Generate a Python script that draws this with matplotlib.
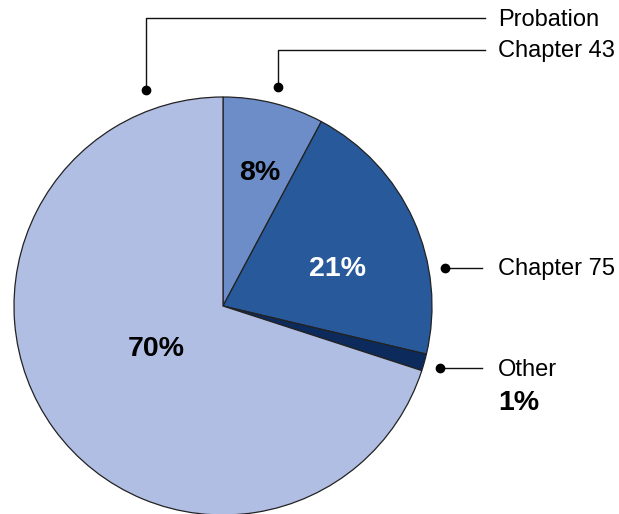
import matplotlib
matplotlib.use("Agg")
import matplotlib.pyplot as plt

categories = ["Chapter 43", "Chapter 75", "Other", "Probation"]
values = [7.8, 20.9, 1.3, 70.0]
pct_labels = ["8%", "21%", "1%", "70%"]
colors = ["#6c8dc8", "#28599b", "#0c2b5c", "#b0bee3"]

W, H = 619, 514
fig = plt.figure(figsize=(W / 100, H / 100), dpi=100)
ax = fig.add_axes([0, 0, 1, 1])

def py(y):
    return H - y

cx, cy, r = 223, 306, 209
wedges, _ = ax.pie(values, colors=colors, startangle=90, counterclock=False,
                   center=(cx, py(cy)), radius=r, frame=True,
                   wedgeprops=dict(edgecolor="#222222", linewidth=0.9))
ax.set_xlim(0, W)
ax.set_ylim(0, H)
ax.set_aspect("equal")
ax.axis("off")

plt.rcParams["font.family"] = ["Liberation Sans", "DejaVu Sans"]
fs_lab = 17
fs_pct = 20.5

# in-pie percentage labels
ax.text(260, py(173), pct_labels[0], ha="center", va="center", fontsize=fs_pct, fontweight="bold", color="black")
ax.text(337, py(269), pct_labels[1], ha="center", va="center", fontsize=fs_pct, fontweight="bold", color="white")
ax.text(156, py(349), pct_labels[3], ha="center", va="center", fontsize=fs_pct, fontweight="bold", color="black")

lc = "#111111"
dy = 1.5
# Probation leader
ax.plot([146, 146, 485], [py(90), py(18), py(18)], color=lc, lw=1)
ax.plot([146], [py(90)], "o", color="black", ms=6)
ax.text(498, py(18 + dy), categories[3], ha="left", va="center", fontsize=fs_lab)
# Chapter 43 leader
ax.plot([278, 278, 485], [py(87), py(50), py(50)], color=lc, lw=1)
ax.plot([278], [py(87)], "o", color="black", ms=6)
ax.text(498, py(50 + dy), categories[0], ha="left", va="center", fontsize=fs_lab)
# Chapter 75 leader
ax.plot([445, 482], [py(268), py(268)], color=lc, lw=1)
ax.plot([445], [py(268)], "o", color="black", ms=6)
ax.text(498, py(268 + dy), categories[1], ha="left", va="center", fontsize=fs_lab)
# Other leader
ax.plot([440, 482], [py(368), py(368)], color=lc, lw=1)
ax.plot([440], [py(368)], "o", color="black", ms=6)
ax.text(498, py(368 + dy), categories[2], ha="left", va="center", fontsize=fs_lab)
ax.text(498, py(403), pct_labels[2], ha="left", va="center", fontsize=fs_pct, fontweight="bold")

fig.savefig("out.png", dpi=100)
